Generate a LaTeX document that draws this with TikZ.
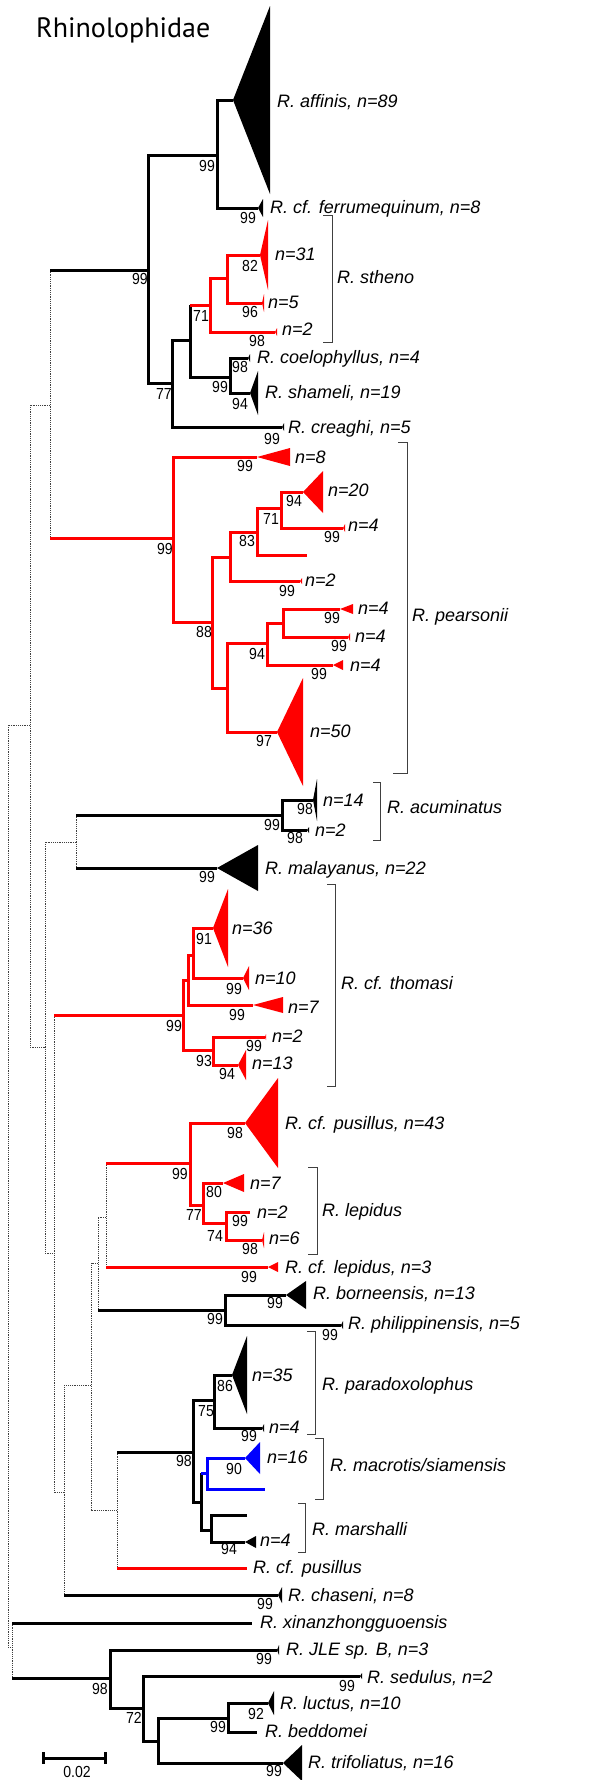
\documentclass[tikz,border=0pt]{standalone}
\usepackage{fontspec}
\setmainfont{Liberation Sans}
\newfontfamily\titlefont{PT Sans}
\newfontfamily\bsfont[FakeStretch=0.88]{Liberation Sans}
\usetikzlibrary{positioning}
\newcommand{\clade}[5][black]{\fill[#1] (#2,#3) -- (#4,#3-#5) -- (#4,#3+#5) -- cycle;}

\begin{document}
\begin{tikzpicture}[
  x=1pt, y=-1pt,
  br/.style={line width=3pt},
  bk/.style={br, black},
  rd/.style={br, red},
  bl/.style={br, blue},
  dt/.style={line width=0.8pt, black!75, dash pattern=on 1.2pt off 1pt},
  brk/.style={line width=1pt, black!75},
  lab/.style={anchor=west, inner sep=0pt, text height=13pt, text depth=0pt,
              font=\fontsize{18}{20}\selectfont\itshape},
  bs/.style={inner sep=0pt, text height=11.5pt, text depth=0pt,
             font=\bsfont\fontsize{16}{18}\selectfont}
]
\useasboundingbox (0,0) rectangle (607,1780);
\node[anchor=base west, inner sep=0pt, font=\titlefont\fontsize{28}{30}\selectfont]
  (title) at (36,37) {Rhinolophidae};

% backbone
\draw[dt] (30,725) -| (8,1647) -- (12,1647);
\draw[dt] (50,405) -| (30,1047) -- (45,1047);
\draw[dt] (50,270) -- (50,538);
\draw[dt] (76,842) -| (45,1253) -- (54,1253);
\draw[dt] (76,815) -- (76,868);
\draw[dt] (54,1015) -- (54,1492) -- (64,1492);
\draw[dt] (91,1385) -| (64,1595);
\draw[dt] (98,1263) -| (91,1510) -- (117,1510);
\draw[dt] (106,1217) -| (98,1310);
\draw[dt] (106,1163) -- (106,1267);
\draw[dt] (117,1452) -- (117,1568);
\draw[dt] (12,1623) -- (12,1678);

% affinis - stheno
\draw[bk] (50,270) -- (148,270);
\draw[bk] (233,100) -| (217,208) -- (258,208);
\draw[bk] (217,155) -| (148,383) -- (172,383);
\draw[bk] (190,340) -| (172,427) -- (282,427);
\draw[bk] (190,305) -- (190,377) -- (230,377);
\draw[rd] (190,305) -- (210,305);
\draw[rd] (227,278) -| (210,332) -- (275,332);
\draw[rd] (260,255) -| (227,303) -- (262,303);
\draw[bk] (248,358) -| (230,393) -- (250,393);

% pearsonii
\draw[rd] (50,538) -- (173,538);
\draw[rd] (257,457) -| (173,622) -- (212,622);
\draw[rd] (230,557) -| (212,688) -- (227,688);
\draw[rd] (257,532) -| (230,581) -- (300,581);
\draw[rd] (281,508) -| (257,555) -- (307,555);
\draw[rd] (303,492) -| (281,528) -- (343,528);
\draw[rd] (267,643) -| (227,732) -- (277,732);
\draw[rd] (283,623) -| (267,665) -- (333,665);
\draw[rd] (340,609) -| (283,637) -- (348,637);

% acuminatus, malayanus
\draw[bk] (76,815) -- (282,815);
\draw[bk] (76,868) -- (217,868);
\draw[bk] (313,800) -| (282,830) -- (307,830);

% thomasi
\draw[rd] (54,1015) -- (183,1015);
\draw[rd] (188,980) -| (183,1050) -- (213,1050);
\draw[rd] (193,955) -| (188,1005) -- (253,1005);
\draw[rd] (213,928) -| (193,978) -- (243,978);
\draw[rd] (265,1037) -| (213,1065) -- (238,1065);

% pusillus, lepidus
\draw[rd] (106,1163) -- (190,1163);
\draw[rd] (245,1123) -| (190,1205) -- (203,1205);
\draw[rd] (223,1183) -| (203,1223) -- (226,1223);
\draw[rd] (250,1212) -| (226,1240) -- (262,1240);
\draw[rd] (106,1267) -- (268,1267);

% borneensis
\draw[bk] (98,1310) -- (225,1310);
\draw[bk] (286,1295) -| (225,1325) -- (341,1325);

% paradoxolophus, macrotis, marshalli
\draw[bk] (117,1452) -- (193,1452);
\draw[bk] (214,1400) -| (193,1502) -- (201,1502);
\draw[bk] (232,1375) -| (214,1428) -- (262,1428);
\draw[bk] (201,1473) -- (201,1530) -- (211,1530);
\draw[bl] (201,1473) -- (207,1473);
\draw[bl] (245,1458) -| (207,1489) -- (265,1489);
\draw[bk] (247,1515) -| (211,1542) -- (245,1542);
\draw[rd] (117,1568) -- (247,1568);
\draw[bk] (64,1595) -- (278,1595);

% southern group
\draw[bk] (12,1623) -- (252,1623);
\draw[bk] (12,1678) -- (110,1678);
\draw[bk] (277,1650) -| (110,1708) -- (143,1708);
\draw[bk] (360,1676) -| (143,1741) -- (158,1741);
\draw[bk] (228,1718) -| (158,1763) -- (283,1763);
\draw[bk] (268,1703) -| (228,1732) -- (257,1732);

% collapsed clades
\clade{233}{100}{270}{94}
\clade{258}{208}{263}{9}
\clade[red]{260}{255}{268}{35}
\clade[red]{262}{303}{264}{9}
\clade[red]{275}{332}{277}{4}
\clade{248}{358}{250}{4}
\clade{250}{393}{258}{22}
\clade{282}{427}{284}{4}
\clade[red]{257}{457}{290}{9}
\clade[red]{303}{492}{323}{21}
\clade[red]{343}{528}{345}{4}
\clade[red]{300}{581}{302}{3}
\clade[red]{340}{609}{353}{5}
\clade[red]{348}{637}{350}{4}
\clade[red]{333}{665}{343}{5}
\clade[red]{277}{732}{303}{54}
\clade{313}{800}{317}{21}
\clade{307}{830}{309}{3}
\clade{217}{868}{258}{23}
\clade[red]{213}{928}{228}{39}
\clade[red]{243}{978}{249}{12}
\clade[red]{253}{1005}{283}{8}
\clade[red]{265}{1037}{266}{3}
\clade[red]{238}{1065}{246}{15}
\clade[red]{245}{1123}{278}{45}
\clade[red]{223}{1183}{244}{9}
\clade[red]{262}{1240}{264}{8}
\clade[red]{268}{1267}{278}{5}
\clade{286}{1295}{306}{14}
\clade{341}{1325}{343}{4}
\clade{232}{1375}{247}{39}
\clade{262}{1428}{264}{4}
\clade[blue]{245}{1458}{260}{16}
\clade{245}{1542}{256}{6}
\clade{278}{1595}{282}{8}
\clade{277}{1650}{279}{5}
\clade{360}{1676}{362}{3}
\clade{268}{1703}{274}{12}
\clade{283}{1763}{302}{18}

% tip labels
\node[lab] (affinis) at (277,101) {R. affinis, n=89};
\node[lab] (ferrum) at (270,207) {R. cf. ferrumequinum, n=8};
\node[lab] (st31) at (275,254) {n=31};
\node[lab] (st5) at (268,302) {n=5};
\node[lab] (st2) at (282,329) {n=2};
\node[lab] (coelo) at (257,357) {R. coelophyllus, n=4};
\node[lab] (shameli) at (265,392) {R. shameli, n=19};
\node[lab] (creaghi) at (288,427) {R. creaghi, n=5};
\node[lab] (pe8) at (295,457) {n=8};
\node[lab] (pe20) at (328,490) {n=20};
\node[lab] (pe4a) at (348,525) {n=4};
\node[lab] (pe2) at (305,580) {n=2};
\node[lab] (pe4b) at (358,608) {n=4};
\node[lab] (pe4c) at (355,636) {n=4};
\node[lab] (pe4d) at (350,665) {n=4};
\node[lab] (pe50) at (310,731) {n=50};
\node[lab] (ac14) at (323,800) {n=14};
\node[lab] (ac2) at (315,830) {n=2};
\node[lab] (malay) at (265,868) {R. malayanus, n=22};
\node[lab] (th36) at (232,928) {n=36};
\node[lab] (th10) at (255,978) {n=10};
\node[lab] (th7) at (288,1007) {n=7};
\node[lab] (th2) at (272,1036) {n=2};
\node[lab] (th13) at (252,1063) {n=13};
\node[lab] (pus43) at (285,1123) {R. cf. pusillus, n=43};
\node[lab] (le7) at (250,1183) {n=7};
\node[lab] (le2) at (257,1212) {n=2};
\node[lab] (le6) at (269,1238) {n=6};
\node[lab] (cflep) at (285,1267) {R. cf. lepidus, n=3};
\node[lab] (borne) at (313,1293) {R. borneensis, n=13};
\node[lab] (phil) at (348,1323) {R. philippinensis, n=5};
\node[lab] (pa35) at (252,1375) {n=35};
\node[lab] (pa4) at (269,1427) {n=4};
\node[lab] (ma16) at (267,1457) {n=16};
\node[lab] (mr4) at (260,1540) {n=4};
\node[lab] (cfpus) at (253,1567) {R. cf. pusillus};
\node[lab] (chaseni) at (288,1595) {R. chaseni, n=8};
\node[lab] (xinan) at (260,1622) {R. xinanzhongguoensis};
\node[lab] (jle) at (286,1649) {R. JLE sp. B, n=3};
\node[lab] (sedulus) at (367,1677) {R. sedulus, n=2};
\node[lab] (luctus) at (280,1703) {R. luctus, n=10};
\node[lab] (beddomei) at (265,1731) {R. beddomei};
\node[lab] (trifol) at (308,1762) {R. trifoliatus, n=16};

% species brackets
\draw[brk] (323,215) -| (332,342) -- (323,342);
\node[lab] (stheno) at (337,277) {R. stheno};
\draw[brk] (398,442) -| (407,773) -- (393,773);
\node[lab] (pearsonii) at (412,615) {R. pearsonii};
\draw[brk] (373,782) -| (380,840) -- (373,840);
\node[lab] (acuminatus) at (387,807) {R. acuminatus};
\draw[brk] (327,884) -| (335,1086) -- (327,1086);
\node[lab] (thomasi) at (341,983) {R. cf. thomasi};
\draw[brk] (308,1167) -| (317,1254) -- (308,1254);
\node[lab] (lepidus) at (322,1210) {R. lepidus};
\draw[brk] (307,1331) -| (315,1434) -- (307,1434);
\node[lab] (paradox) at (322,1384) {R. paradoxolophus};
\draw[brk] (315,1438) -| (323,1499) -- (315,1499);
\node[lab] (macrotis) at (330,1465) {R. macrotis/siamensis};
\draw[brk] (298,1503) -| (305,1552) -- (298,1552);
\node[lab] (marshalli) at (312,1529) {R. marshalli};

% bootstrap values
\node[bs] (b1) at (207,166) {99};
\node[bs] (b2) at (248,218) {99};
\node[bs] (b3) at (140,279) {99};
\node[bs] (b4) at (250,266) {82};
\node[bs] (b5) at (250,312) {96};
\node[bs] (b6) at (201,316) {71};
\node[bs] (b7) at (257,341) {98};
\node[bs] (b8) at (240,367) {98};
\node[bs] (b9) at (220,387) {99};
\node[bs] (b10) at (240,404) {94};
\node[bs] (b11) at (164,394) {77};
\node[bs] (b12) at (272,439) {99};
\node[bs] (b13) at (245,466) {99};
\node[bs] (b14) at (165,549) {99};
\node[bs] (b15) at (294,501) {94};
\node[bs] (b16) at (271,519) {71};
\node[bs] (b17) at (247,541) {83};
\node[bs] (b18) at (332,537) {99};
\node[bs] (b19) at (287,591) {99};
\node[bs] (b20) at (204,632) {88};
\node[bs] (b21) at (332,618) {99};
\node[bs] (b22) at (339,646) {99};
\node[bs] (b23) at (257,654) {94};
\node[bs] (b24) at (319,674) {99};
\node[bs] (b25) at (264,741) {97};
\node[bs] (b26) at (305,809) {98};
\node[bs] (b27) at (272,825) {99};
\node[bs] (b28) at (295,838) {98};
\node[bs] (b29) at (207,877) {99};
\node[bs] (b30) at (204,939) {91};
\node[bs] (b31) at (234,989) {99};
\node[bs] (b32) at (237,1015) {99};
\node[bs] (b33) at (174,1026) {99};
\node[bs] (b34) at (254,1046) {99};
\node[bs] (b35) at (204,1061) {93};
\node[bs] (b36) at (227,1074) {94};
\node[bs] (b37) at (235,1133) {98};
\node[bs] (b38) at (180,1174) {99};
\node[bs] (b39) at (214,1192) {80};
\node[bs] (b40) at (194,1215) {77};
\node[bs] (b41) at (240,1221) {99};
\node[bs] (b42) at (215,1236) {74};
\node[bs] (b43) at (250,1249) {98};
\node[bs] (b44) at (249,1277) {99};
\node[bs] (b45) at (275,1303) {99};
\node[bs] (b46) at (215,1319) {99};
\node[bs] (b47) at (330,1335) {99};
\node[bs] (b48) at (225,1386) {86};
\node[bs] (b49) at (206,1411) {75};
\node[bs] (b50) at (249,1436) {99};
\node[bs] (b51) at (184,1461) {98};
\node[bs] (b52) at (234,1469) {90};
\node[bs] (b53) at (229,1549) {94};
\node[bs] (b54) at (265,1604) {99};
\node[bs] (b55) at (264,1659) {99};
\node[bs] (b56) at (100,1689) {98};
\node[bs] (b57) at (347,1686) {99};
\node[bs] (b58) at (134,1718) {72};
\node[bs] (b59) at (256,1714) {92};
\node[bs] (b60) at (218,1727) {99};
\node[bs] (b61) at (274,1771) {99};

% scale bar
\draw[bk] (43,1758) -- (105,1758);
\draw[bk] (43,1752) -- (43,1764);
\draw[bk] (105,1752) -- (105,1764);
\node[bs] (scale) at (77,1772) {0.02};
\end{tikzpicture}
\end{document}
